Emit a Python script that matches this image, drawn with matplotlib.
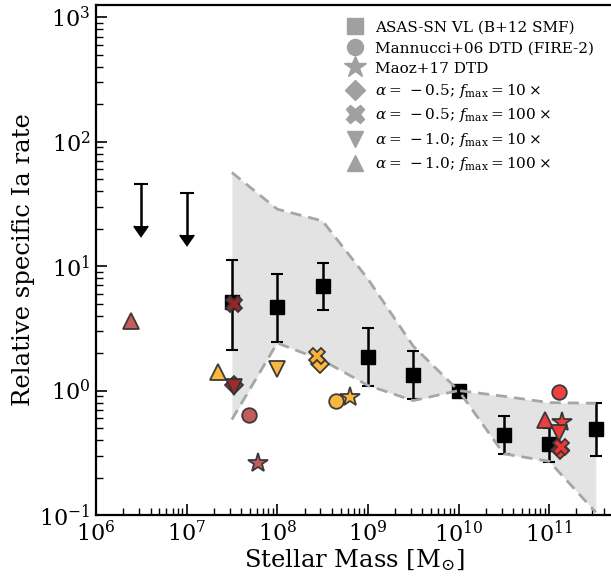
import numpy as np
import matplotlib
matplotlib.use('Agg')
import matplotlib.pyplot as plt
from matplotlib.lines import Line2D

plt.rcParams['font.family'] = 'DejaVu Serif'
plt.rcParams['mathtext.fontset'] = 'dejavuserif'

# ASAS-SN volume-limited rates (B+12 stellar mass function)
asas_mass = [3.16e7, 1.0e8, 3.16e8, 1.0e9, 3.16e9, 1.0e10, 3.16e10, 1.0e11, 3.27e11]
asas_rate = [5.15, 4.69, 6.9, 1.86, 1.34, 1.0, 0.44, 0.373, 0.49]
asas_hi = [11.2, 8.6, 10.6, 3.18, 2.08, 1.0, 0.63, 0.50, 0.79]
asas_lo = [2.12, 2.46, 4.44, 1.09, 0.86, 1.0, 0.31, 0.266, 0.30]

# upper limits in the two lowest bins
ul_mass = [3.16e6, 1.0e7]
ul_top = [45.6, 38.4]
ul_tip = [21.0, 17.8]

# model envelope
band_mass = [3.16e7, 1.0e8, 3.16e8, 1.0e9, 3.16e9, 1.0e10, 3.16e10, 1.0e11, 3.27e11]
band_hi = [56.6, 28.7, 23.1, 7.9, 2.28, 1.0, 0.9, 0.80, 0.79]
band_lo = [0.585, 2.41, 1.75, 1.1, 0.83, 1.0, 0.31, 0.27, 0.105]

# FIRE-2 galaxies: (mass, rate) per model
dark_red = {'X': (3.3e7, 5.0), 'D': (3.3e7, 1.1), 'v': (3.3e7, 1.07)}
light_red = {'^': (2.43e6, 3.65), 'o': (4.9e7, 0.64), '*': (6.2e7, 0.26)}
orange = {'^': (2.2e7, 1.41), 'v': (1.0e8, 1.49), 'D': (3.0e8, 1.64),
          'X': (2.75e8, 1.9), 'o': (4.5e8, 0.83), '*': (6.3e8, 0.89)}
red = {'o': (1.29e11, 0.97), '^': (9.1e10, 0.575), '*': (1.38e11, 0.56),
       'v': (1.29e11, 0.46), 'D': (1.33e11, 0.33), 'X': (1.35e11, 0.35)}

legend_labels = ['ASAS-SN VL (B+12 SMF)', 'Mannucci+06 DTD (FIRE-2)', 'Maoz+17 DTD',
                 r'$\alpha =\, -0.5$; $f_{\rm max} = 10\times$',
                 r'$\alpha =\, -0.5$; $f_{\rm max} = 100\times$',
                 r'$\alpha =\, -1.0$; $f_{\rm max} = 10\times$',
                 r'$\alpha =\, -1.0$; $f_{\rm max} = 100\times$']
legend_markers = ['s', 'o', '*', 'D', 'X', 'v', '^']

fig = plt.figure(figsize=(6.11, 5.77), dpi=100)
ax = fig.add_axes([0.157, 0.1075, 0.8455, 0.8838])

ax.fill_between(band_mass, band_lo, band_hi, color='#e3e3e3', lw=0, zorder=1)
ax.plot(band_mass, band_hi, '--', color='#a6a6a6', lw=2, dashes=(4, 2.5), zorder=3)
ax.plot(band_mass, band_lo, '--', color='#a6a6a6', lw=2, dashes=(4, 2.5), zorder=3)

asas_mass = np.array(asas_mass)
asas_rate = np.array(asas_rate)
asas_hi = np.array(asas_hi)
asas_lo = np.array(asas_lo)
has_err = asas_hi > asas_lo
yerr = [(asas_rate - asas_lo)[has_err], (asas_hi - asas_rate)[has_err]]
ax.errorbar(asas_mass[has_err], asas_rate[has_err], yerr=yerr, fmt='none', ecolor='k',
            elinewidth=1.8, capsize=4, capthick=1.5, zorder=2)
ax.plot(asas_mass, asas_rate, 's', color='k', ms=10, zorder=2)

ul_top = np.array(ul_top)
ax.errorbar(ul_mass, ul_top, yerr=ul_top - np.array(ul_tip), uplims=True, fmt='none',
            ecolor='k', color='k', elinewidth=1.8, capsize=5, capthick=1.5, zorder=2)

sizes = {'o': 10.5, '*': 15, 'D': 9, 'X': 12, 'v': 11, '^': 11}
for group, col in [(light_red, '#c05454'), (dark_red, '#9c2b2b'),
                   (orange, '#fbb232'), (red, '#ee3535')]:
    for m, (xm, ym) in group.items():
        ax.plot(xm, ym, marker=m, ls='none', ms=sizes[m], mfc=col, mec='#333333',
                mew=1.3, alpha=0.95, zorder=4)

ax.set_xscale('log')
ax.set_yscale('log')
ax.set_xlim(1e6, 5e11)
ax.set_ylim(0.1, 1255)

for s in ax.spines.values():
    s.set_linewidth(1.6)
ax.tick_params(which='both', direction='in', labelsize=16, top=False, right=False)
ax.tick_params(which='major', length=8, width=1.2, pad=4)
ax.tick_params(which='minor', length=5, width=1.0)

ax.set_xlabel(r'Stellar Mass [M$_{\odot}$]', fontsize=17.5, labelpad=0)
ax.set_ylabel('Relative specific Ia rate', fontsize=17.5, labelpad=3)

handles = [Line2D([], [], marker=m, ls='none', color='#a0a0a0',
                  ms=sizes[m] if m != 's' else 10) for m in legend_markers]
ax.legend(handles, legend_labels, loc='upper right', frameon=False, fontsize=11,
          handletextpad=0.3, labelspacing=0.42, borderaxespad=0.3, markerscale=1.1,
          bbox_to_anchor=(0.985, 0.99))

fig.savefig('out.png', dpi=100)
